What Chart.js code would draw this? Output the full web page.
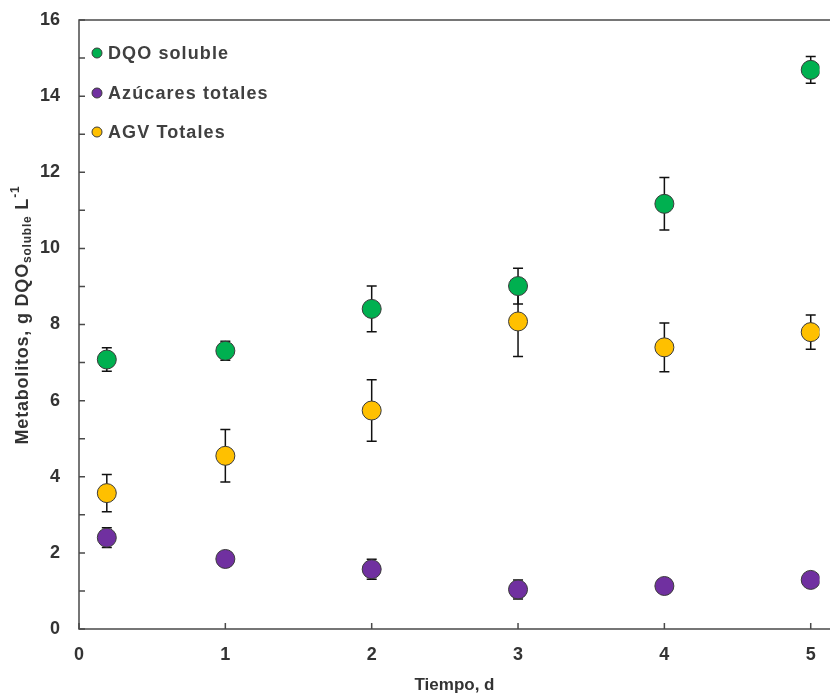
<!DOCTYPE html>
<html>
<head>
<meta charset="utf-8">
<script src="https://cdn.jsdelivr.net/npm/chart.js@4.4.0/dist/chart.umd.min.js"></script>
<style>
  html, body { margin: 0; padding: 0; background: #fff; }
  #c { display: block; }
</style>
</head>
<body>
<canvas id="c" width="830" height="693"></canvas>
<script>
// ---- Data ----
const days = [0.19, 1, 2, 3, 4, 5];
const seriesNames = ['DQO soluble', 'Azúcares totales', 'AGV Totales'];
const dqoSoluble    = [7.08, 7.31, 8.41, 9.01, 11.17, 14.69];
const dqoSolubleErr = [0.31, 0.25, 0.60, 0.47, 0.69, 0.35];
const azucares      = [2.40, 1.84, 1.57, 1.04, 1.13, 1.29];
const azucaresErr   = [0.26, 0.18, 0.26, 0.25, 0.12, 0.12];
const agvTotales    = [3.57, 4.55, 5.74, 8.08, 7.40, 7.80];
const agvTotalesErr = [0.49, 0.69, 0.81, 0.92, 0.64, 0.45];
const xTickLabels = [0, 1, 2, 3, 4, 5];
const yTickLabels = [0, 2, 4, 6, 8, 10, 12, 14, 16];
const yMinorTicks = [1, 3, 5, 7, 9, 11, 13, 15];
const xTitle = 'Tiempo, d';
const yTitleParts = [
  { text: 'Metabolitos, g DQO', kind: 'main' },
  { text: 'soluble', kind: 'sub' },
  { text: ' L', kind: 'main' },
  { text: '-1', kind: 'sup' }
];

const colors = ['#00B050', '#7030A0', '#FFC000'];
const values = [dqoSoluble, azucares, agvTotales];
const errors = [dqoSolubleErr, azucaresErr, agvTotalesErr];
const FONT = '"Liberation Sans", Arial, sans-serif';
const TEXT = '#333333';
const AXIS = '#4a4a4a';
const CLEAR = 'rgba(0,0,0,0)';

const datasets = values.map((vals, k) => ({
  label: seriesNames[k],
  data: days.map((d, i) => ({ x: d, y: vals[i] })),
  backgroundColor: colors[k],
  borderColor: '#3a3a3a',
  borderWidth: 1,
  pointRadius: 9.5,
  pointHoverRadius: 9.5,
  showLine: false
}));

const errorBarPlugin = {
  id: 'errorBars',
  beforeDatasetsDraw(chart) {
    const ctx = chart.ctx, xs = chart.scales.x, ys = chart.scales.y;
    ctx.save();
    ctx.strokeStyle = '#111';
    ctx.lineWidth = 1.5;
    errors.forEach((errs, k) => {
      errs.forEach((e, i) => {
        const px = xs.getPixelForValue(days[i]);
        const t = ys.getPixelForValue(values[k][i] + e);
        const b = ys.getPixelForValue(values[k][i] - e);
        ctx.beginPath();
        ctx.moveTo(px, t); ctx.lineTo(px, b);
        ctx.moveTo(px - 5, t); ctx.lineTo(px + 5, t);
        ctx.moveTo(px - 5, b); ctx.lineTo(px + 5, b);
        ctx.stroke();
      });
    });
    ctx.restore();
  }
};

const framePlugin = {
  id: 'frame',
  beforeDatasetsDraw(chart) {
    const ctx = chart.ctx, a = chart.chartArea, xs = chart.scales.x, ys = chart.scales.y;
    const W = chart.width;
    ctx.save();
    ctx.strokeStyle = AXIS;
    ctx.lineWidth = 1.5;
    ctx.beginPath();
    ctx.moveTo(W, a.top); ctx.lineTo(a.left, a.top);
    ctx.lineTo(a.left, a.bottom); ctx.lineTo(W, a.bottom);
    ctx.stroke();
    // inward ticks
    ctx.beginPath();
    yTickLabels.concat(yMinorTicks).forEach(v => {
      const py = ys.getPixelForValue(v);
      ctx.moveTo(a.left, py); ctx.lineTo(a.left + 6, py);
    });
    xTickLabels.forEach(v => {
      const px = xs.getPixelForValue(v);
      ctx.moveTo(px, a.bottom); ctx.lineTo(px, a.bottom - 6);
    });
    ctx.stroke();
    ctx.restore();
  },
  afterDraw(chart) {
    const ctx = chart.ctx, a = chart.chartArea;
    ctx.save();
    // legend
    const ly = [53, 93, 132];
    seriesNames.forEach((n, k) => {
      ctx.beginPath();
      ctx.arc(97, ly[k], 5, 0, Math.PI * 2);
      ctx.fillStyle = colors[k];
      ctx.fill();
      ctx.lineWidth = 1;
      ctx.strokeStyle = '#3a3a3a';
      ctx.stroke();
      ctx.fillStyle = '#404040';
      ctx.font = 'bold 18px ' + FONT;
      ctx.letterSpacing = '1.1px';
      ctx.textBaseline = 'middle';
      ctx.textAlign = 'left';
      ctx.fillText(n, 108, ly[k] + 1);
    });
    // x title
    ctx.letterSpacing = '0px';
    ctx.fillStyle = TEXT;
    ctx.font = 'bold 17px ' + FONT;
    ctx.textAlign = 'center';
    ctx.textBaseline = 'middle';
    ctx.fillText(xTitle, (a.left + chart.width) / 2, 685);
    // y title
    ctx.translate(23, 315);
    ctx.rotate(-Math.PI / 2);
    ctx.letterSpacing = '0.8px';
    const fonts = { main: 'bold 18px ' + FONT, sub: 'bold 12px ' + FONT, sup: 'bold 12px ' + FONT };
    const offs = { main: 0, sub: 5, sup: -7 };
    let total = 0;
    yTitleParts.forEach(p => { ctx.font = fonts[p.kind]; total += ctx.measureText(p.text).width; });
    let x = -total / 2;
    ctx.textAlign = 'left';
    yTitleParts.forEach(p => {
      ctx.font = fonts[p.kind];
      ctx.fillText(p.text, x, offs[p.kind]);
      x += ctx.measureText(p.text).width;
    });
    ctx.restore();
  }
};

new Chart(document.getElementById('c'), {
  type: 'scatter',
  data: { datasets },
  options: {
    responsive: false,
    animation: false,
    devicePixelRatio: 1,
    layout: { padding: { top: 20, right: 0, left: 0, bottom: 0 } },
    plugins: { legend: { display: false }, tooltip: { enabled: false } },
    scales: {
      x: {
        type: 'linear',
        min: 0,
        max: 5.06,
        afterBuildTicks: s => { s.ticks = xTickLabels.map(v => ({ value: v })); },
        afterFit: s => { s.height = 64; },
        grid: { display: true, drawOnChartArea: false, drawTicks: true, tickLength: 15, color: CLEAR, tickColor: CLEAR },
        border: { display: false },
        ticks: {
          padding: 0,
          color: TEXT,
          font: { family: FONT, size: 18, weight: 'bold' },
          callback: v => String(v)
        }
      },
      y: {
        type: 'linear',
        min: 0,
        max: 16,
        afterBuildTicks: s => { s.ticks = yTickLabels.map(v => ({ value: v })); },
        afterFit: s => { s.width = 79; },
        grid: { display: true, drawOnChartArea: false, drawTicks: true, tickLength: 19, color: CLEAR, tickColor: CLEAR },
        border: { display: false },
        ticks: {
          padding: 0,
          color: TEXT,
          font: { family: FONT, size: 18, weight: 'bold' },
          callback: v => String(v)
        }
      }
    }
  },
  plugins: [errorBarPlugin, framePlugin]
});
</script>
</body>
</html>
